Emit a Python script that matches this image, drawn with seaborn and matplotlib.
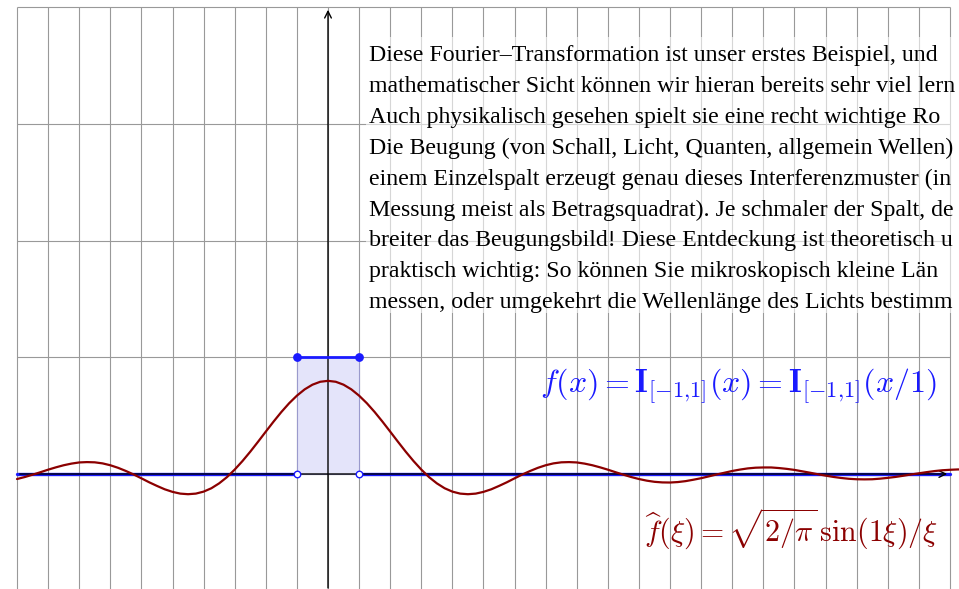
import numpy as np
import matplotlib
matplotlib.use("Agg")
import matplotlib.pyplot as plt
import seaborn as sns

# sample points of the transform curve (x step 0.25)
xi = [-10.0, -9.75, -9.5, -9.25, -9.0, -8.75, -8.5, -8.25, -8.0, -7.75,
      -7.5, -7.25, -7.0, -6.75, -6.5, -6.25, -6.0, -5.75, -5.5, -5.25,
      -5.0, -4.75, -4.5, -4.25, -4.0, -3.75, -3.5, -3.25, -3.0, -2.75,
      -2.5, -2.25, -2.0, -1.75, -1.5, -1.25, -1.0, -0.75, -0.5, -0.25,
      0.0, 0.25, 0.5, 0.75, 1.0, 1.25, 1.5, 1.75, 2.0, 2.25,
      2.5, 2.75, 3.0, 3.25, 3.5, 3.75, 4.0, 4.25, 4.5, 4.75,
      5.0, 5.25, 5.5, 5.75, 6.0, 6.25, 6.5, 6.75, 7.0, 7.25,
      7.5, 7.75, 8.0, 8.25, 8.5, 8.75, 9.0, 9.25, 9.5, 9.75,
      10.0, 10.25, 10.5, 10.75, 11.0, 11.25, 11.5, 11.75, 12.0, 12.25,
      12.5, 12.75, 13.0, 13.25, 13.5, 13.75, 14.0, 14.25, 14.5, 14.75,
      15.0, 15.25, 15.5, 15.75, 16.0, 16.25, 16.5, 16.75, 17.0, 17.25,
      17.5, 17.75, 18.0, 18.25, 18.5, 18.75, 19.0, 19.25, 19.5, 19.75,
      20.0, 20.25, 20.5]
fhat = [-0.043, -0.026, -0.006, 0.015, 0.037, 0.057, 0.075, 0.089, 0.099, 0.102,
        0.100, 0.091, 0.075, 0.053, 0.026, -0.004, -0.037, -0.071, -0.102, -0.131,
        -0.153, -0.168, -0.173, -0.168, -0.151, -0.122, -0.080, -0.027, 0.038, 0.111,
        0.191, 0.276, 0.363, 0.449, 0.531, 0.606, 0.671, 0.725, 0.765, 0.790,
        0.798, 0.790, 0.765, 0.725, 0.671, 0.606, 0.531, 0.449, 0.363, 0.276,
        0.191, 0.111, 0.038, -0.027, -0.080, -0.122, -0.151, -0.168, -0.173, -0.168,
        -0.153, -0.131, -0.102, -0.071, -0.037, -0.004, 0.026, 0.053, 0.075, 0.091,
        0.100, 0.102, 0.099, 0.089, 0.075, 0.057, 0.037, 0.015, -0.006, -0.026,
        -0.043, -0.057, -0.067, -0.072, -0.073, -0.069, -0.061, -0.049, -0.036, -0.020,
        -0.004, 0.011, 0.026, 0.038, 0.048, 0.054, 0.056, 0.056, 0.051, 0.044,
        0.035, 0.023, 0.011, -0.002, -0.014, -0.025, -0.034, -0.041, -0.045, -0.046,
        -0.045, -0.040, -0.033, -0.025, -0.015, -0.004, 0.006, 0.016, 0.025, 0.032,
        0.036, 0.039, 0.039]

# indicator function on [-1, 1]
ind_x = [-1, 1]
ind_top = 1
ind_bottom = 0

grid_x = list(range(-10, 21))
grid_y = list(range(-1, 5))

# the paragraph as far as it is visible in the picture
paragraph = [
    "Diese Fourier–Transformation ist unser erstes Beispiel, und",
    "mathematischer Sicht können wir hieran bereits sehr viel lern",
    "Auch physikalisch gesehen spielt sie eine recht wichtige Ro",
    "Die Beugung (von Schall, Licht, Quanten, allgemein Wellen)",
    "einem Einzelspalt erzeugt genau dieses Interferenzmuster (in",
    "Messung meist als Betragsquadrat). Je schmaler der Spalt, de",
    "breiter das Beugungsbild! Diese Entdeckung ist theoretisch u",
    "praktisch wichtig: So können Sie mikroskopisch kleine Län",
    "messen, oder umgekehrt die Wellenlänge des Lichts bestimm",
]

label_f = r"$f(x) = \mathbf{I}_{[-1{,}1]}(x) = \mathbf{I}_{[-1{,}1]}(x/1)$"
label_fhat = r"$\widehat{f}(\xi) = \sqrt{2/\pi}\,\sin(1\xi)/\xi$"

sns.set_theme(style="white")
plt.rcParams["mathtext.fontset"] = "cm"
plt.rcParams["font.family"] = ["Liberation Serif", "DejaVu Serif"]

fig = plt.figure(figsize=(9.59, 5.89), dpi=100)
ax = fig.add_axes([0, 0, 1, 1])
ax.set_xlim(-10.547, 20.29)
ax.set_ylim(-0.985, 4.06)
ax.axis("off")

blue = "#1a1aff"
red = "#8b0000"

# grid
ax.vlines(grid_x, -1, 4, color="#999999", lw=0.8, zorder=1)
ax.hlines(grid_y, -10, 20, color="#999999", lw=0.8, zorder=1)

# white-ish box behind the text
ax.fill_between([1.22, 20.6], 1.38, 3.74, color="white", alpha=0.6, lw=0, zorder=2)

# indicator box
ax.fill_between(ind_x, ind_bottom, ind_top, color="#e4e4fa", edgecolor="#9a9acc",
                lw=0.8, zorder=3)
ax.plot([-10, ind_x[0]], [ind_bottom, ind_bottom], color=blue, lw=2.4, zorder=4)
ax.plot([ind_x[1], 20], [ind_bottom, ind_bottom], color=blue, lw=2.4, zorder=4)
ax.plot(ind_x, [ind_top, ind_top], color=blue, lw=2.0, zorder=6)

# axes with arrows
ax.annotate("", xy=(20, 0), xytext=(-10, 0),
            arrowprops=dict(arrowstyle="->", color="black", lw=1.0, mutation_scale=12),
            zorder=5)
ax.annotate("", xy=(0, 4), xytext=(0, -1),
            arrowprops=dict(arrowstyle="->", color="black", lw=1.0, mutation_scale=12),
            zorder=5)

# transform curve
sns.lineplot(x=xi, y=fhat, color=red, lw=1.6, ax=ax, zorder=7)

# endpoint markers
ax.scatter(ind_x, [ind_top, ind_top], s=28, color=blue, zorder=8)
ax.scatter(ind_x, [ind_bottom, ind_bottom], s=22, facecolor="white",
           edgecolor=blue, lw=1.0, zorder=8)

# paragraph
for i, line in enumerate(paragraph):
    ax.text(1.32, 3.537 - i * 0.2647, line, fontsize=17.2, color="black",
            ha="left", va="baseline", zorder=9)

ax.text(19.58, 0.70, label_f, fontsize=23, color=blue, ha="right",
        va="baseline", zorder=9)
ax.text(19.62, -0.58, label_fhat, fontsize=21.5, color=red, ha="right",
        va="baseline", zorder=9)

fig.savefig("out.png", dpi=100)
